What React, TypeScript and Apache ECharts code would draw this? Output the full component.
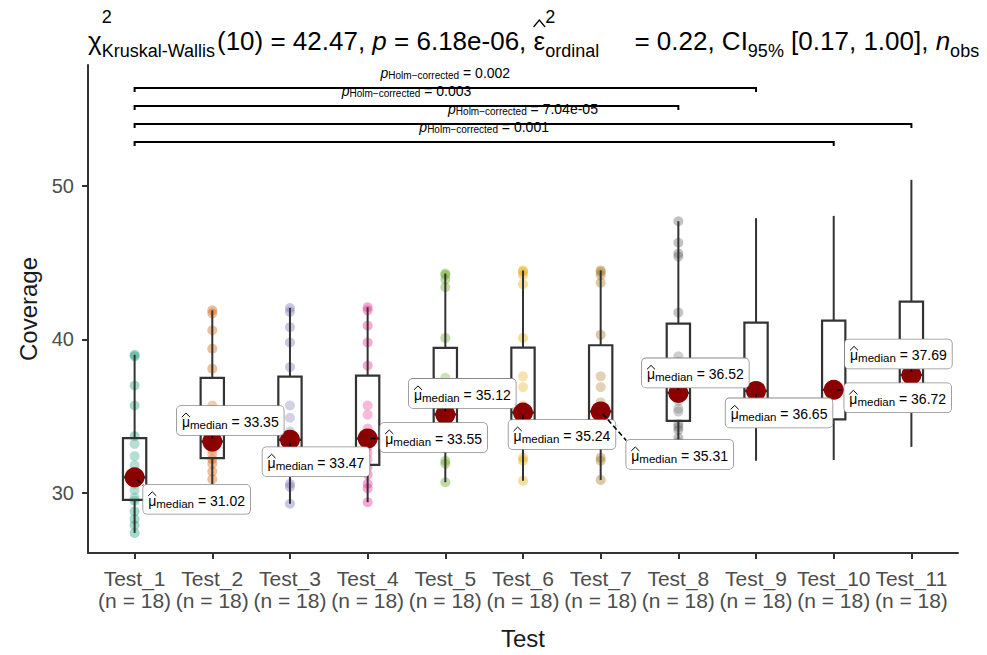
import React, { useEffect, useRef } from "react";
import * as echarts from "echarts";

const FONT = '"Liberation Sans", Arial, sans-serif';

const categories = ["Test_1", "Test_2", "Test_3", "Test_4", "Test_5", "Test_6", "Test_7", "Test_8", "Test_9", "Test_10", "Test_11"];

const test1 = [27.4, 27.9, 28.3, 28.8, 29.5, 29.7, 30.2, 30.6, 30.9, 31.14, 31.8, 32.4, 33.2, 33.7, 35.7, 37.0, 38.9, 39.0];
const test2 = [30.1, 30.9, 31.4, 31.9, 32.2, 32.5, 32.8, 33.0, 33.2, 33.5, 34.1, 34.8, 35.7, 38.1, 39.4, 40.6, 41.7, 41.9];
const test3 = [29.3, 30.4, 30.6, 31.5, 32.4, 32.9, 33.0, 33.2, 33.3, 33.64, 34.0, 34.9, 35.7, 38.2, 39.8, 40.8, 41.8, 42.05];
const test4 = [29.4, 30.3, 30.6, 31.2, 31.7, 32.2, 32.6, 33.0, 33.4, 33.7, 34.2, 35.1, 35.7, 38.3, 39.8, 40.9, 41.9, 42.1];
const test5 = [30.7, 31.9, 32.1, 33.0, 33.9, 34.5, 34.7, 34.9, 35.0, 35.24, 35.8, 36.4, 37.5, 40.1, 43.4, 43.9, 44.2, 44.3];
const test6 = [30.8, 32.1, 32.3, 33.4, 34.2, 34.6, 34.8, 35.0, 35.1, 35.38, 35.7, 36.9, 37.6, 40.1, 43.6, 44.2, 44.4, 44.5];
const test7 = [30.85, 32.1, 32.3, 33.5, 34.2, 34.6, 34.9, 35.1, 35.2, 35.42, 35.9, 36.9, 37.6, 40.3, 43.7, 44.2, 44.4, 44.5];
const test8 = [33.3, 33.6, 34.1, 34.3, 34.5, 35.3, 35.5, 36.0, 36.3, 36.74, 37.5, 38.55, 38.9, 41.75, 45.4, 45.6, 46.3, 47.7];
const test9 = [32.1, 32.8, 33.6, 34.3, 34.8, 35.2, 35.6, 36.0, 36.4, 36.9, 37.5, 38.3, 39.0, 41.8, 44.0, 45.5, 47.0, 47.9];
const test10 = [32.15, 33.0, 33.7, 34.3, 34.7, 35.1, 35.6, 36.1, 36.5, 36.94, 37.6, 38.4, 39.2, 41.9, 44.2, 45.8, 47.2, 48.05];
const test11 = [33.0, 34.5, 35.6, 36.4, 37.0, 37.4, 37.5, 37.6, 37.65, 37.73, 38.5, 39.5, 40.6, 43.08, 45.0, 47.0, 49.0, 50.4];

const groups = [test1, test2, test3, test4, test5, test6, test7, test8, test9, test10, test11];

// Dark2 palette (8 colours); groups beyond it have no point colour
const pointColors = ["#1B9E77", "#D95F02", "#7570B3", "#E7298A", "#66A61E", "#E6AB02", "#A6761D", "#666666", "", "", ""];

const yTicks = [30, 40, 50];

// pairwise comparisons (Holm-corrected)
const pairFrom = [0, 0, 0, 0];
const pairTo = [8, 7, 10, 9];
const pairLevel = [56.38, 55.21, 54.04, 52.87];
const pairP = ["0.002", "0.003", "7.04e-05", "0.001"];

// label nudges (pixels) of the median labels
const labelNudges = [[62, 22], [18, -21], [26, 22], [66, -1], [17, -21], [39, 22], [79, 43], [17, -20], [23, 22], [64, 8], [-13, -21]];

function quantile(sorted: number[], p: number) {
  const h = (sorted.length - 1) * p;
  const lo = Math.floor(h);
  const hi = Math.min(lo + 1, sorted.length - 1);
  return sorted[lo] + (h - lo) * (sorted[hi] - sorted[lo]);
}

function boxStats(vals: number[]) {
  const s = [...vals].sort((a, b) => a - b);
  const q1 = quantile(s, 0.25);
  const med = quantile(s, 0.5);
  const q3 = quantile(s, 0.75);
  const iqr = q3 - q1;
  const lo = Math.min(...s.filter((v) => v >= q1 - 1.5 * iqr));
  const hi = Math.max(...s.filter((v) => v <= q3 + 1.5 * iqr));
  return [lo, q1, med, q3, hi];
}

let measureCtx: CanvasRenderingContext2D | null = null;
function measure(text: string, size: number, italic = false) {
  if (!measureCtx) measureCtx = document.createElement("canvas").getContext("2d");
  measureCtx!.font = `${italic ? "italic " : ""}${size}px ${FONT}`;
  return measureCtx!.measureText(text).width;
}

type Part = { kind: "main" | "stack" | "sub" | "hat"; text?: string; sup?: string; sub?: string; italic?: boolean; gap?: number };
const titleParts: Part[] = [
  { kind: "main", text: "χ" },
  { kind: "stack", sup: "2", sub: "Kruskal-Wallis", gap: 2 },
  { kind: "main", text: "(10) = 42.47, " },
  { kind: "main", text: "p", italic: true },
  { kind: "main", text: " = 6.18e-06, " },
  { kind: "hat", text: "ε" },
  { kind: "stack", sup: "2", sub: "ordinal", gap: 28 },
  { kind: "main", text: " = 0.22, CI" },
  { kind: "sub", text: "95%" },
  { kind: "main", text: " [0.17, 1.00], " },
  { kind: "main", text: "n", italic: true },
  { kind: "sub", text: "obs" },
];

function buildTitle() {
  const MAIN = 26, SMALL = 18;
  const MAIN_Y = 41, SUP_Y = 17, SUB_Y = 51;
  let x = 88;
  const els: any[] = [];
  const add = (text: string, size: number, y: number, italic: boolean, xx: number) => {
    els.push({
      type: "text",
      x: xx,
      y,
      silent: true,
      style: { text, fontSize: size, fontFamily: FONT, fontStyle: italic ? "italic" : "normal", fill: "#000", align: "left", verticalAlign: "middle" },
    });
  };
  for (const p of titleParts) {
    if (p.kind === "main") {
      add(p.text!, MAIN, MAIN_Y, !!p.italic, x);
      x += measure(p.text!, MAIN, !!p.italic);
    } else if (p.kind === "stack") {
      add(p.sup!, SMALL, SUP_Y, false, x);
      add(p.sub!, SMALL, SUB_Y, false, x);
      x += Math.max(measure(p.sup!, SMALL), measure(p.sub!, SMALL)) + (p.gap || 0);
    } else if (p.kind === "sub") {
      add(p.text!, SMALL, SUB_Y, false, x);
      x += measure(p.text!, SMALL);
    } else if (p.kind === "hat") {
      const w = measure(p.text!, MAIN);
      add(p.text!, MAIN, MAIN_Y, false, x);
      els.push({
        type: "polyline",
        silent: true,
        shape: { points: [[x, 27], [x + w / 2, 20], [x + w, 27]] },
        style: { stroke: "#000", lineWidth: 1.3, fill: "none" },
      });
      x += w;
    }
  }
  return els;
}

const LBL_MAIN = 14, LBL_SUB = 11.5;
const LBL_PAD = [7, 5, 4, 5];

export default function App() {
  const ref = useRef<HTMLDivElement>(null);
  useEffect(() => {
    if (!ref.current) return;
    const chart = echarts.init(ref.current, undefined, { renderer: "svg" });

    const stats = groups.map(boxStats);
    const boxData = stats.map((s, i) => [i, ...s]);
    const medianData = stats.map((s, i) => [i, s[2]]);
    const pointData: any[] = [];
    groups.forEach((g, i) => {
      if (!pointColors[i]) return;
      g.forEach((v) => pointData.push({ value: [i, v], itemStyle: { color: pointColors[i] } }));
    });
    const bracketData = pairFrom.map((f, k) => [f, pairTo[k], pairLevel[k]]);
    const idx = categories.map((_, i) => i);

    const BOX_LINE = "#333333";

    const option: any = {
      animation: false,
      backgroundColor: "#ffffff",
      grid: { left: 88, right: 29, top: 65, bottom: 102 },
      graphic: { elements: buildTitle() },
      xAxis: {
        type: "value",
        min: -0.6,
        max: 10.6,
        splitLine: { show: false },
        axisLine: { show: true, onZero: false, lineStyle: { color: "#333333", width: 2 } },
        axisTick: { show: true, customValues: idx, length: 6, lineStyle: { color: "#333333", width: 2 } },
        axisLabel: {
          customValues: idx,
          formatter: (v: number) => `${categories[Math.round(v)]}\n(n = ${groups[Math.round(v)].length})`,
          fontSize: 21,
          lineHeight: 22,
          color: "#4D4D4D",
          fontFamily: FONT,
          margin: 14,
        },
        name: "Test",
        nameLocation: "middle",
        nameGap: 73,
        nameTextStyle: { fontSize: 24, color: "#1a1a1a", fontFamily: FONT },
      },
      yAxis: {
        type: "value",
        min: 26.09,
        max: 57.88,
        splitLine: { show: false },
        axisLine: { show: true, onZero: false, lineStyle: { color: "#333333", width: 2 } },
        axisTick: { show: true, customValues: yTicks, length: 6, lineStyle: { color: "#333333", width: 2 } },
        axisLabel: { customValues: yTicks, fontSize: 20, color: "#4D4D4D", fontFamily: FONT, margin: 14 },
        name: "Coverage",
        nameLocation: "middle",
        nameGap: 48,
        nameTextStyle: { fontSize: 24, color: "#1a1a1a", fontFamily: FONT },
      },
      series: [
        {
          type: "scatter",
          data: pointData,
          symbolSize: 10,
          itemStyle: { opacity: 0.4 },
          silent: true,
          z: 2,
        },
        {
          type: "custom",
          data: boxData,
          z: 3,
          silent: true,
          renderItem: (params: any, api: any) => {
            const i = api.value(0);
            const [x, loY] = api.coord([i, api.value(1)]);
            const q1Y = api.coord([i, api.value(2)])[1];
            const medY = api.coord([i, api.value(3)])[1];
            const q3Y = api.coord([i, api.value(4)])[1];
            const hiY = api.coord([i, api.value(5)])[1];
            const bw = api.size([0.3, 0])[0];
            const ls = { stroke: BOX_LINE, lineWidth: 2 };
            return {
              type: "group",
              children: [
                { type: "line", shape: { x1: x, y1: loY, x2: x, y2: q1Y }, style: ls },
                { type: "line", shape: { x1: x, y1: q3Y, x2: x, y2: hiY }, style: ls },
                { type: "rect", shape: { x: x - bw / 2, y: q3Y, width: bw, height: q1Y - q3Y }, style: { fill: "rgba(255,255,255,0.2)", stroke: BOX_LINE, lineWidth: 2.2 } },
                { type: "line", shape: { x1: x - bw / 2, y1: medY, x2: x + bw / 2, y2: medY }, style: { stroke: BOX_LINE, lineWidth: 2.5 } },
              ],
            };
          },
        },
        {
          type: "custom",
          data: medianData,
          z: 4,
          silent: true,
          renderItem: (params: any, api: any) => {
            const [px, py] = api.coord([api.value(0), api.value(1)]);
            return { type: "circle", shape: { cx: px, cy: py, r: 10 }, style: { fill: "#8B0000" } };
          },
        },
        {
          type: "custom",
          data: medianData,
          z: 5,
          silent: true,
          renderItem: (params: any, api: any) => {
            const i = api.value(0);
            const m = api.value(1);
            const [px, py] = api.coord([i, m]);
            const [dx, dy] = labelNudges[i];
            const cx = px + dx, cy = py + dy;
            const valText = ` = ${Number(m).toFixed(2)}`;
            const muW = measure("μ", LBL_MAIN);
            const w = muW + measure("median", LBL_SUB) + measure(valText, LBL_MAIN) + LBL_PAD[1] + LBL_PAD[3];
            const hw = w / 2, hh = 14;
            const left = cx - hw;
            const ym = cy + (LBL_PAD[0] - LBL_PAD[2]) / 2;
            const muX = left + LBL_PAD[3];
            const nx = Math.max(cx - hw, Math.min(px, cx + hw));
            const ny = Math.max(cy - hh, Math.min(py, cy + hh));
            const vx = nx - px, vy = ny - py;
            const len = Math.hypot(vx, vy) || 1;
            return {
              type: "group",
              children: [
                {
                  type: "line",
                  shape: { x1: px + (vx / len) * 3, y1: py + (vy / len) * 3, x2: nx, y2: ny },
                  style: { stroke: "#000", lineWidth: 1.6, lineDash: [5, 3] },
                },
                {
                  type: "text",
                  x: cx,
                  y: cy,
                  style: {
                    text: `{mu|μ}{sub|median}{eq|${valText}}`,
                    rich: {
                      mu: { fontSize: LBL_MAIN, fontFamily: FONT, fill: "#000" },
                      sub: { fontSize: LBL_SUB, fontFamily: FONT, fill: "#000", padding: [6, 0, 0, 0] },
                      eq: { fontSize: LBL_MAIN, fontFamily: FONT, fill: "#000" },
                    },
                    align: "center",
                    verticalAlign: "middle",
                    backgroundColor: "#ffffff",
                    borderColor: "#8a8a8a",
                    borderWidth: 0.8,
                    borderRadius: 4,
                    padding: LBL_PAD,
                  },
                },
                {
                  type: "polyline",
                  shape: { points: [[muX, ym - 5], [muX + muW / 2, ym - 9], [muX + muW, ym - 5]] },
                  style: { stroke: "#000", lineWidth: 1, fill: "none" },
                  z2: 10,
                },
              ],
            };
          },
        },
        {
          type: "custom",
          data: bracketData,
          z: 5,
          silent: true,
          renderItem: (params: any, api: any) => {
            const [x1, y] = api.coord([api.value(0), api.value(2)]);
            const x2 = api.coord([api.value(1), api.value(2)])[0];
            return {
              type: "group",
              children: [
                {
                  type: "polyline",
                  shape: { points: [[x1, y + 4], [x1, y], [x2, y], [x2, y + 4]] },
                  style: { stroke: "#000", lineWidth: 2, fill: "none" },
                },
                {
                  type: "text",
                  x: (x1 + x2) / 2,
                  y: y - 15,
                  style: {
                    text: `{p|p}{s|Holm−corrected}{t| = ${pairP[params.dataIndex]}}`,
                    rich: {
                      p: { fontSize: 14, fontStyle: "italic", fontFamily: FONT, fill: "#000" },
                      s: { fontSize: 10, fontFamily: FONT, fill: "#000", padding: [5, 0, 0, 0] },
                      t: { fontSize: 14, fontFamily: FONT, fill: "#000" },
                    },
                    align: "center",
                    verticalAlign: "middle",
                  },
                },
              ],
            };
          },
        },
      ],
    };
    chart.setOption(option);
    return () => chart.dispose();
  }, []);
  return <div ref={ref} style={{ position: "fixed", left: 0, top: 0, width: 987, height: 655, background: "#fff" }} />;
}
